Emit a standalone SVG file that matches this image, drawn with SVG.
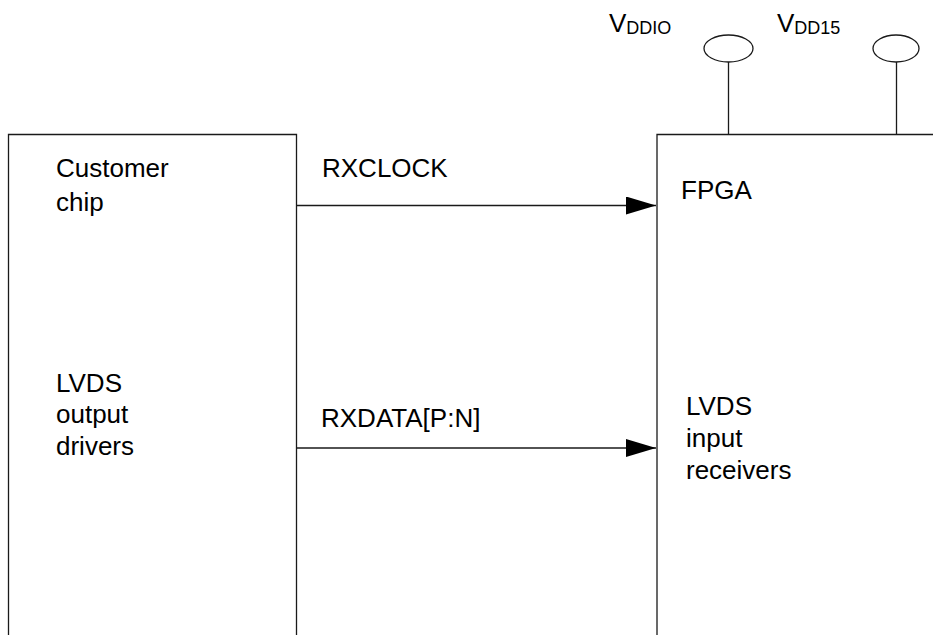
<svg xmlns="http://www.w3.org/2000/svg" width="933" height="635" viewBox="0 0 933 635">
  <style>
    .edge { fill: none; stroke: #1a1a1a; stroke-width: 1.3; }
    .lbl { font-family: "Liberation Sans", Arial, sans-serif; font-size: 26px; fill: #000; }
    .sub { font-size: 18px; }
  </style>
  <defs>
    <marker id="arrow" markerUnits="userSpaceOnUse" markerWidth="30" markerHeight="18" refX="30" refY="9" orient="auto">
      <path d="M0,0 L30,9 L0,18 Z" fill="#000"/>
    </marker>
  </defs>
  <rect width="933" height="635" fill="#fff"/>

  <!-- Customer chip (open at the bottom) -->
  <g id="customer-chip">
    <path class="edge" d="M8.5,640 V134.5 H296.5 V640"/>
    <text class="lbl" x="56" y="177">Customer</text>
    <text class="lbl" x="56" y="211">chip</text>
    <text class="lbl" x="56" y="392">LVDS</text>
    <text class="lbl" x="56" y="423">output</text>
    <text class="lbl" x="56" y="455">drivers</text>
  </g>

  <!-- FPGA (open at the bottom and right) -->
  <g id="fpga">
    <path class="edge" d="M657,640 V134.5 H940"/>
    <text class="lbl" x="681" y="199">FPGA</text>
    <text class="lbl" x="686" y="415">LVDS</text>
    <text class="lbl" x="686" y="447">input</text>
    <text class="lbl" x="686" y="479">receivers</text>
  </g>

  <!-- Supply pins -->
  <g id="vddio">
    <ellipse class="edge" cx="728.5" cy="48.5" rx="24.5" ry="13.5"/>
    <line class="edge" x1="728.5" y1="62" x2="728.5" y2="134.5"/>
    <text class="lbl" x="609" y="32">V<tspan class="sub" dy="2">DDIO</tspan></text>
  </g>
  <g id="vdd15">
    <ellipse class="edge" cx="896" cy="48.5" rx="23" ry="13.5"/>
    <line class="edge" x1="896.5" y1="62" x2="896.5" y2="134.5"/>
    <text class="lbl" x="777" y="32">V<tspan class="sub" dy="2">DD15</tspan></text>
  </g>

  <!-- Signal connectors -->
  <g id="connectors">
    <line class="edge" x1="296.5" y1="205.5" x2="656" y2="205.5" marker-end="url(#arrow)"/>
    <line class="edge" x1="296.5" y1="448" x2="656" y2="448" marker-end="url(#arrow)"/>
    <text class="lbl" x="322" y="177">RXCLOCK</text>
    <text class="lbl" x="321" y="427">RXDATA[P:N]</text>
  </g>
</svg>
